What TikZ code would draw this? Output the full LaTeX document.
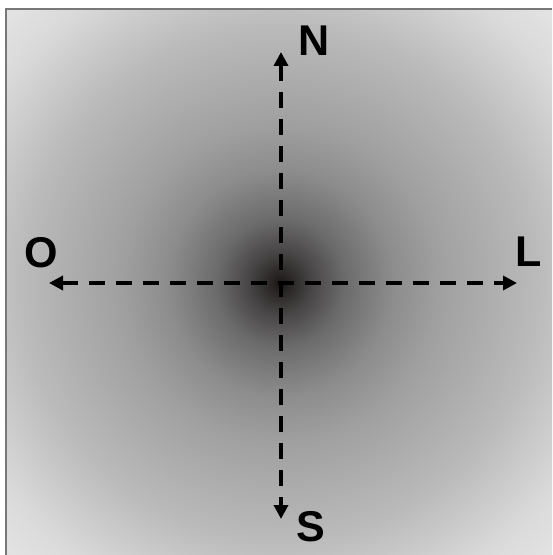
\documentclass[tikz,border=0pt]{standalone}
\usepackage{fontspec}
\setmainfont{Liberation Sans}
\usetikzlibrary{arrows.meta}
\definecolor{glowA}{RGB}{28,23,23}
\definecolor{glowB}{RGB}{72,70,70}
\definecolor{glowC}{RGB}{108,107,107}
\definecolor{glowD}{RGB}{140,140,140}
\definecolor{glowE}{RGB}{160,160,160}
\definecolor{glowF}{RGB}{186,186,186}
\definecolor{glowG}{RGB}{218,218,218}
\definecolor{glowH}{RGB}{230,230,230}
\definecolor{frameG}{RGB}{120,120,120}
\pgfdeclareradialshading{glow}{\pgfpoint{0bp}{0bp}}{color(0bp)=(glowA); color(2bp)=(glowB);
  color(4bp)=(glowC); color(7bp)=(glowD); color(10bp)=(glowE); color(16bp)=(glowF);
  color(21.3bp)=(glowG); color(25bp)=(glowH); color(50bp)=(glowH)}

\begin{document}
\begin{tikzpicture}[x=0.2mm, y=-0.2mm,
  axis/.style={line width=0.8mm, dash pattern=on 3.2mm off 2.2mm,
               {Triangle[length=2.8mm,width=2.8mm]}-{Triangle[length=2.8mm,width=2.8mm]}},
  dir/.style={font=\fontsize{24.5}{28}\selectfont\bfseries, inner sep=0pt}]

  \useasboundingbox (0,0) rectangle (552,555);
  \fill[white] (0,0) rectangle (552,555);
  \begin{scope}
    \clip (7,9) rectangle (552,555);
    \shade[shading=glow] (280,283) circle (8cm);
  \end{scope}
  \draw[frameG, line width=0.4mm] (6,555) |- (552,9);

  % arrow tips
  \coordinate (tn) at (281,52);
  \coordinate (ts) at (281,519);
  \coordinate (to) at (49,283);
  \coordinate (tl) at (517,283);

  \node[dir] (n) at (314.5,40.5) {N};
  \node[dir] (s) at (311,527) {S};
  \node[dir] (o) at (41.5,252.5) {O};
  \node[dir] (l) at (529,252) {L};

  \draw[axis] (to) -- (tl);
  \draw[axis] (tn) -- (ts);
\end{tikzpicture}
\end{document}
